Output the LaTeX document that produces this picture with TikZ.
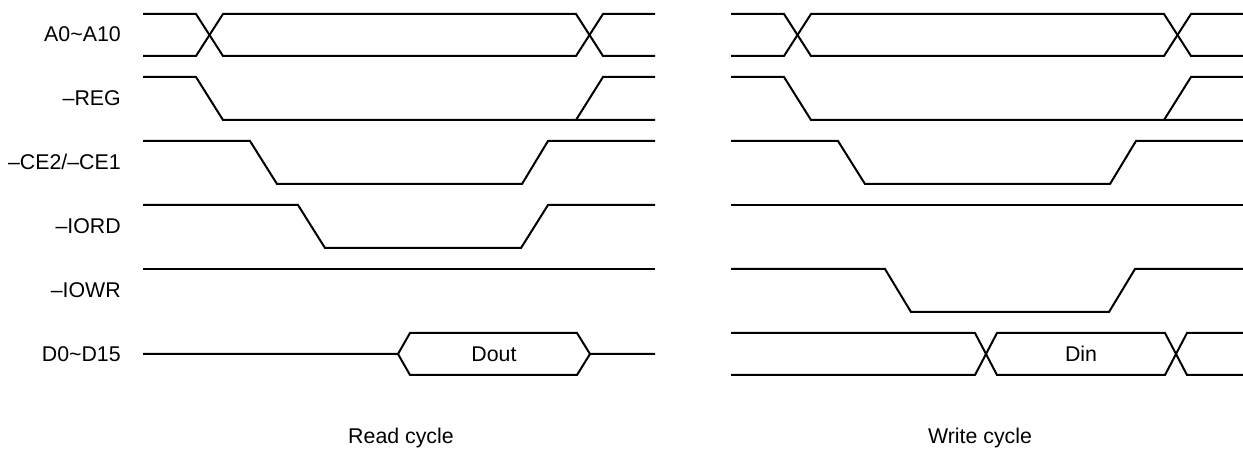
\documentclass[tikz,border=0pt]{standalone}
\usepackage{fontspec}
\setmainfont{Liberation Sans}

\begin{document}
\begin{tikzpicture}[x=0.75pt,y=-0.75pt,
        sig/.style={line width=1.5pt,line join=miter},
        sigName/.style={anchor=base east,inner sep=0pt,font=\fontsize{16}{19}\selectfont},
        busText/.style={inner sep=0pt,font=\fontsize{16}{19}\selectfont}]
            \useasboundingbox (0,0) rectangle (1243,452);
            % signal names, one row every 64px
            \foreach \sName [count=\i from 0] in {A0\textasciitilde A10,–REG,–CE2/–CE1,–IORD,–IOWR,D0\textasciitilde D15}
                {   \pgfmathsetmacro{\yMid}{35+64*\i+7}
                    \node[sigName] (name\i) at (121,\yMid) {\sName};
                }
            % rows that are alike in both cycles
            \foreach \xOff in {0,588}
                {   \begin{scope}[shift={(\xOff,0)}]
                    \draw[sig] (143,14) -- (196,14) -- (223,56) -- (576,56) -- (603,14) -- (655,14);
                    \draw[sig] (143,56) -- (196,56) -- (223,14) -- (576,14) -- (603,56) -- (655,56);
                    \draw[sig] (143,77) -- (196,77) -- (223,120) -- (655,120);
                    \draw[sig] (576,120) -- (603,77) -- (655,77);
                    \draw[sig] (143,141) -- (250,141) -- (277,184) -- (522,184) -- (548,141) -- (655,141);
                    \end{scope}
                }
            % read cycle
            \draw[sig] (143,205) -- (298,205) -- (325,248) -- (521,248) -- (548,205) -- (655,205);
            \draw[sig] (143,269) -- (655,269);
            \draw[sig] (143,354) -- (398,354) -- (410,333) -- (577,333) -- (590,354) -- (655,354);
            \draw[sig] (398,354) -- (410,375) -- (577,375) -- (590,354);
            \node[busText] (dOut) at (494,354) {Dout};
            \node[busText,anchor=base] (readTitle) at (401,443) {Read cycle};
            % write cycle
            \draw[sig] (731,205) -- (1243,205);
            \draw[sig] (731,269) -- (885,269) -- (911,312) -- (1109,312) -- (1135,269) -- (1243,269);
            \draw[sig] (731,333) -- (975,333) -- (997,375) -- (1165,375) -- (1187,333) -- (1243,333);
            \draw[sig] (731,375) -- (975,375) -- (997,333) -- (1165,333) -- (1187,375) -- (1243,375);
            \node[busText] (dIn) at (1081,354) {Din};
            \node[busText,anchor=base] (writeTitle) at (980,443) {Write cycle};
        \end{tikzpicture}
\end{document}
